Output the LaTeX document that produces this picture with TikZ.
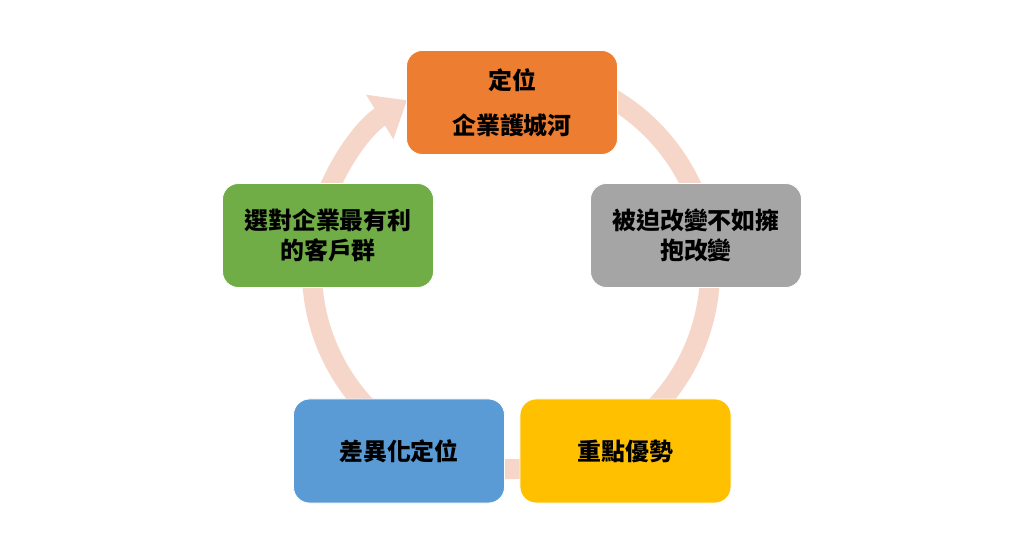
\documentclass[tikz,border=0pt]{standalone}
\usepackage{fontspec}
\newfontfamily\cjk{Noto Sans CJK TC}
\usepackage{xcolor}
\usepackage{tikz}
\usetikzlibrary{arrows.meta}

\definecolor{ringpink}{RGB}{247,214,202}
\definecolor{boxorange}{HTML}{ED7D31}
\definecolor{boxgray}{HTML}{A5A5A5}
\definecolor{boxyellow}{HTML}{FFC000}
\definecolor{boxblue}{HTML}{5B9BD5}
\definecolor{boxgreen}{HTML}{70AD47}

\begin{document}
\begin{tikzpicture}[
  x=0.025cm, y=0.025cm,
  every node/.style={font=\cjk\bfseries\fontsize{17}{21.5}\selectfont},
  stage/.style={draw=white, line width=0.6pt, rounded corners=0.4cm,
    minimum width=5.275cm, minimum height=2.6cm, align=center, text=black},
  ring/.style={ringpink, line width=0.5cm,
    -{Triangle[length=0.8cm, width=1.25cm]}},
]
\useasboundingbox (0,0) rectangle (1024,539);
\fill[white] (0,0) rectangle (1024,539);

% Background cycle arrow
\coordinate (mid) at (511,269);
\draw[ring] (mid) ++(75:4.975cm) arc[start angle=75, end angle=-238.5, radius=4.975cm];

% Stages, clockwise from the top
\node[stage, fill=boxorange] (pos) at (512,436.5) {定位\\[10.5pt]企業護城河};
\node[stage, fill=boxgray] (change) at (696,303.5) {被迫改變不如擁\\抱改變};
\node[stage, fill=boxyellow] (focus) at (625.5,88) {重點優勢};
\node[stage, fill=boxblue] (diff) at (399,88) {差異化定位};
\node[stage, fill=boxgreen] (client) at (328,303.5) {選對企業最有利\\的客戶群};
\end{tikzpicture}
\end{document}
